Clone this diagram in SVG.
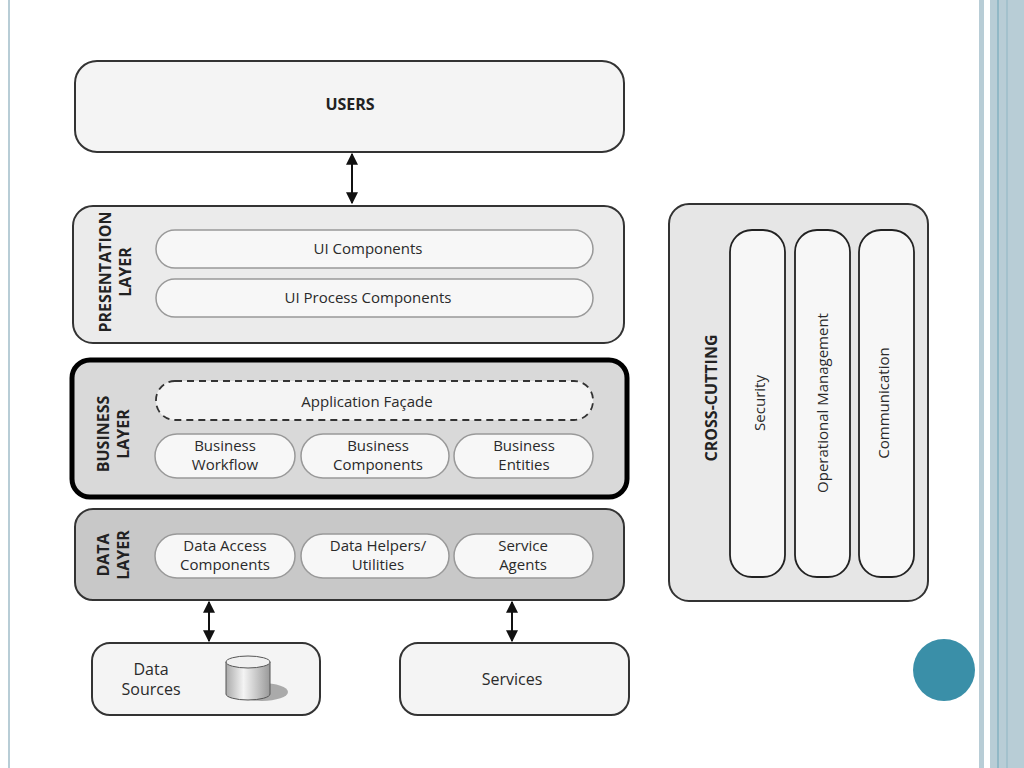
<svg xmlns="http://www.w3.org/2000/svg" width="1024" height="768" viewBox="0 0 1024 768">
<style>
text{font-family:"Open Sans","DejaVu Sans",sans-serif;fill:#2a2a2a;text-anchor:middle}
.t{font-size:15px}
.s{font-size:16px}
.v{font-size:15px}
.b{font-weight:bold;font-size:16px;fill:#222}
.layer{stroke:#333;stroke-width:2}
.pill{fill:#f7f7f7;stroke:#999;stroke-width:1.5}
.ln{stroke:#111;stroke-width:2;fill:none}
</style>
<defs>
<marker id="ah" viewBox="0 0 10 10" refX="9" refY="5" markerWidth="6" markerHeight="6" orient="auto-start-reverse"><path d="M0,0L10,5L0,10z" fill="#111"/></marker>
<linearGradient id="cyl" x1="0" x2="1"><stop offset="0" stop-color="#aaa"/><stop offset="0.4" stop-color="#f4f4f4"/><stop offset="1" stop-color="#999"/></linearGradient>
</defs>
<rect width="1024" height="768" fill="#fff"/>
<line x1="9" y1="0" x2="9" y2="768" stroke="#b8cdd6" stroke-width="2"/>
<rect x="979" y="0" width="5" height="768" fill="#b8cdd6"/>
<rect x="990" y="0" width="34" height="768" fill="#b8cdd6"/>
<line x1="998" y1="0" x2="998" y2="768" stroke="#6ba3b6" stroke-width="1"/>
<line x1="1007" y1="0" x2="1007" y2="768" stroke="#8fb6c4" stroke-width="1"/>
<circle cx="944" cy="670" r="31" fill="#3a8fa8"/>

<g id="users"><rect x="75" y="61" width="549" height="91" rx="22" fill="#f4f4f4" class="layer"/><text x="350" y="110" class="b">USERS</text></g>

<g id="presentation"><rect x="73" y="206" width="551" height="137" rx="20" fill="#ebebeb" class="layer"/>
<text transform="translate(111,272) rotate(-90)" class="b">PRESENTATION</text>
<text transform="translate(131,272) rotate(-90)" class="b">LAYER</text>
<rect x="156" y="230" width="437" height="38" rx="19" class="pill"/><text x="368" y="254" class="t">UI Components</text>
<rect x="156" y="279" width="437" height="38" rx="19" class="pill"/><text x="368" y="303" class="t">UI Process Components</text></g>

<g id="business"><rect x="72" y="360" width="555" height="137" rx="18" fill="#d9d9d9" stroke="#000" stroke-width="5"/>
<text transform="translate(109,434) rotate(-90)" class="b">BUSINESS</text>
<text transform="translate(129,434) rotate(-90)" class="b">LAYER</text>
<rect x="156" y="381" width="437" height="39" rx="19" fill="#f4f4f4" stroke="#333" stroke-width="1.8" stroke-dasharray="7,5"/><text x="367" y="407" class="t">Application Façade</text>
<rect x="155" y="434" width="140" height="44" rx="22" class="pill"/><text x="225" y="451" class="t">Business</text><text x="225" y="470" class="t">Workflow</text>
<rect x="301" y="434" width="148" height="44" rx="22" class="pill"/><text x="378" y="451" class="t">Business</text><text x="378" y="470" class="t">Components</text>
<rect x="454" y="434" width="139" height="44" rx="22" class="pill"/><text x="524" y="451" class="t">Business</text><text x="524" y="470" class="t">Entities</text></g>

<g id="data"><rect x="75" y="509" width="549" height="91" rx="18" fill="#c8c8c8" class="layer"/>
<text transform="translate(109,555) rotate(-90)" class="b">DATA</text>
<text transform="translate(129,555) rotate(-90)" class="b">LAYER</text>
<rect x="155" y="534" width="140" height="44" rx="22" class="pill"/><text x="225" y="551" class="t">Data Access</text><text x="225" y="570" class="t">Components</text>
<rect x="301" y="534" width="148" height="44" rx="22" class="pill"/><text x="378" y="551" class="t">Data Helpers/</text><text x="378" y="570" class="t">Utilities</text>
<rect x="454" y="534" width="139" height="44" rx="22" class="pill"/><text x="523" y="551" class="t">Service</text><text x="523" y="570" class="t">Agents</text></g>

<g id="datasources"><rect x="92" y="643" width="228" height="72" rx="18" fill="#f4f4f4" class="layer"/>
<text x="151" y="675" class="s">Data</text><text x="151" y="695" class="s">Sources</text>
<ellipse cx="262" cy="692" rx="26" ry="9" fill="#aaa"/>
<path d="M226,662v32a22,6 0 0 0 44,0v-32z" fill="url(#cyl)" stroke="#555"/>
<ellipse cx="248" cy="662" rx="22" ry="6" fill="#f0f0f0" stroke="#555"/></g>

<g id="services"><rect x="400" y="643" width="229" height="72" rx="18" fill="#f4f4f4" class="layer"/><text x="512" y="685" class="s">Services</text></g>

<g id="crosscutting"><rect x="669" y="204" width="259" height="397" rx="20" fill="#e6e6e6" class="layer"/>
<text transform="translate(717,398) rotate(-90)" class="b">CROSS-CUTTING</text>
<rect x="730" y="230" width="55" height="347" rx="22" fill="#f7f7f7" stroke="#222" stroke-width="1.8"/><text transform="translate(765,403) rotate(-90)" class="v">Security</text>
<rect x="795" y="230" width="55" height="347" rx="22" fill="#f7f7f7" stroke="#222" stroke-width="1.8"/><text transform="translate(828,403) rotate(-90)" class="v">Operational Management</text>
<rect x="859" y="230" width="55" height="347" rx="22" fill="#f7f7f7" stroke="#222" stroke-width="1.8"/><text transform="translate(889,403) rotate(-90)" class="v">Communication</text></g>

<g id="connectors">
<line x1="352" y1="154" x2="352" y2="203" class="ln" marker-start="url(#ah)" marker-end="url(#ah)"/>
<line x1="209" y1="602" x2="209" y2="641" class="ln" marker-start="url(#ah)" marker-end="url(#ah)"/>
<line x1="512" y1="602" x2="512" y2="641" class="ln" marker-start="url(#ah)" marker-end="url(#ah)"/>
</g>
</svg>
